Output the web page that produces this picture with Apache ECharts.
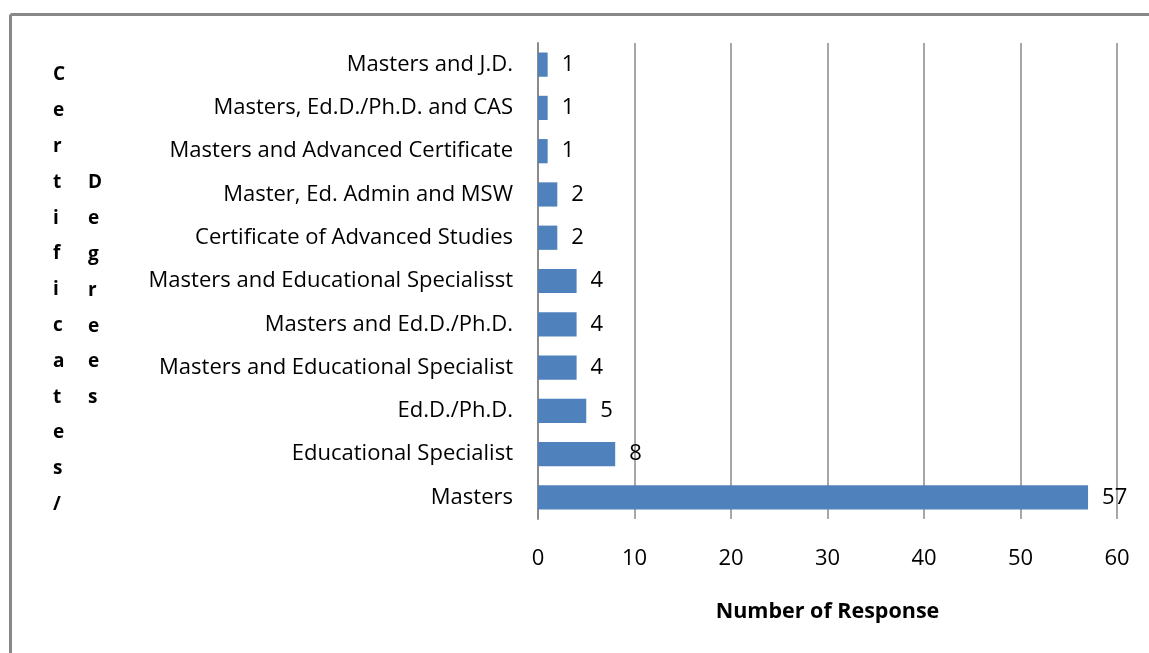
<!DOCTYPE html>
<html><head><meta charset="utf-8">
<script src="https://cdn.jsdelivr.net/npm/echarts@6/dist/echarts.min.js"></script>
<style>html,body{margin:0;padding:0;background:#fff}#c{width:1149px;height:653px}</style>
</head><body><div id="c"></div>
<script>
const categories = ["Masters","Educational Specialist","Ed.D./Ph.D.","Masters and Educational Specialist","Masters and Ed.D./Ph.D.","Masters and Educational Specialisst","Certificate of Advanced Studies","Master, Ed. Admin and MSW","Masters and Advanced Certificate","Masters, Ed.D./Ph.D. and CAS","Masters and J.D."];
const values = [57,8,5,4,4,4,2,2,1,1,1];
const xTicks = [0,10,20,30,40,50,60];
const yTitle1 = "Certificates/";
const yTitle2 = "Degrees";
const xTitle = "Number of Response";

const FONT = "'Open Sans', sans-serif";
const chart = echarts.init(document.getElementById('c'), null, {renderer:'canvas'});
chart.setOption({
  animation:false,
  backgroundColor:'#fff',
  grid:{left:538,right:32,top:43,bottom:134,containLabel:false},
  xAxis:{type:'value',min:xTicks[0],max:xTicks[xTicks.length-1],interval:10,
    axisLine:{show:false},axisTick:{show:false},
    splitLine:{show:true,lineStyle:{color:'#8a8a8a',width:1.5}},
    axisLabel:{color:'#000',fontSize:22,fontFamily:FONT,margin:29},
    name:xTitle,nameLocation:'middle',nameGap:82,
    nameTextStyle:{color:'#000',fontSize:21.5,fontWeight:'bold',fontFamily:FONT}},
  yAxis:{type:'category',data:categories,
    axisLine:{show:true,lineStyle:{color:'#8a8a8a',width:2}},
    axisTick:{show:false},
    axisLabel:{color:'#000',fontSize:22,fontFamily:FONT,margin:25}},
  series:[{type:'bar',data:values,barWidth:'56%',
    itemStyle:{color:'#4F81BD'},
    label:{show:true,position:'right',distance:14,color:'#000',fontSize:22,fontFamily:FONT}}],
  graphic:[
    {type:'line',shape:{x1:10.5,y1:14.5,x2:1160,y2:14.5},style:{stroke:'#888',lineWidth:3}},
    {type:'line',shape:{x1:10.5,y1:14.5,x2:10.5,y2:660},style:{stroke:'#888',lineWidth:3}},
    {type:'text',left:53,top:57,style:{text:yTitle1.split('').join('\n'),font:'bold 19px '+FONT,lineHeight:35.8,fill:'#000',align:'center'}},
    {type:'text',left:88,top:165,style:{text:yTitle2.split('').join('\n'),font:'bold 19px '+FONT,lineHeight:35.8,fill:'#000',align:'center'}}
  ]
});
</script></body></html>
